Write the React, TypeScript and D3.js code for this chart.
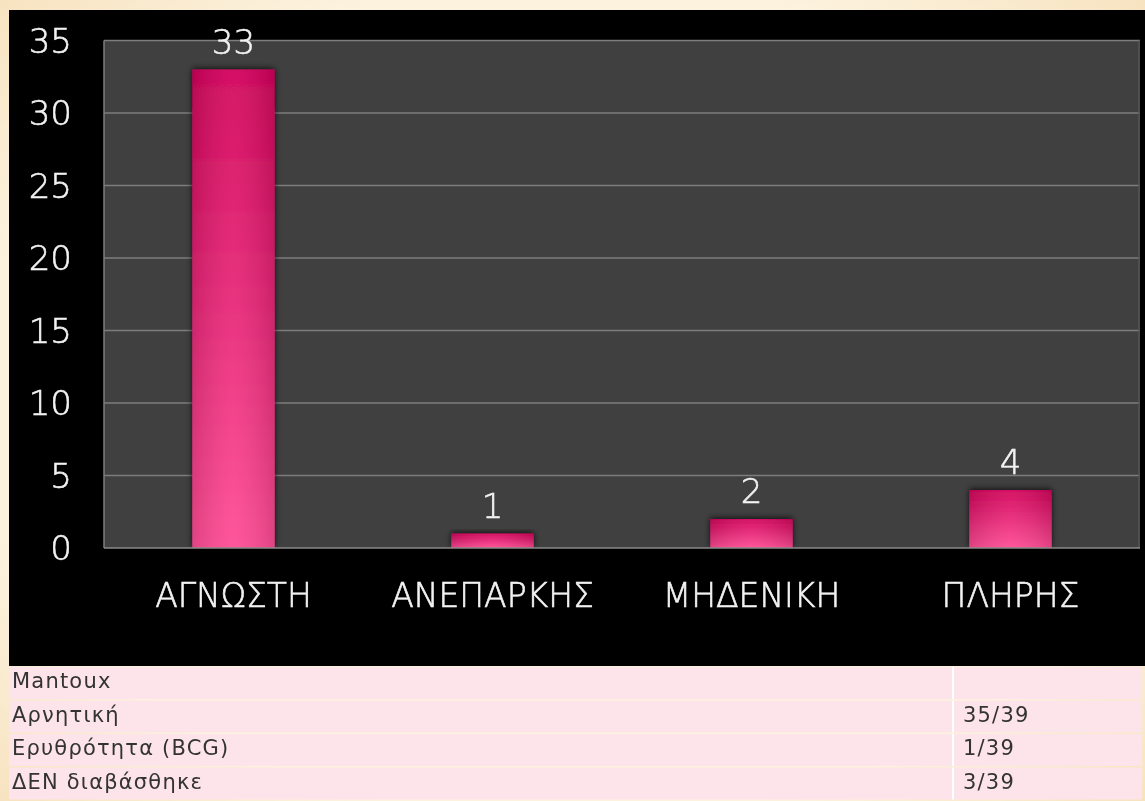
import React from "react";
import * as d3 from "d3";

const categories = ["ΑΓΝΩΣΤΗ", "ΑΝΕΠΑΡΚΗΣ", "ΜΗΔΕΝΙΚΗ", "ΠΛΗΡΗΣ"];
const values = [33, 1, 2, 4];
const yTicks = [0, 5, 10, 15, 20, 25, 30, 35];
const tableLabels = ["Mantoux", "Αρνητική", "Ερυθρότητα (BCG)", "ΔΕΝ διαβάσθηκε"];
const tableValues = ["", "35/39", "1/39", "3/39"];

const W = 1145;
const H = 801;
const FONT = "'DejaVu Sans', sans-serif";

export default function App() {
  const plot = { left: 104, right: 1140, top: 40.5, bottom: 548 };
  const x = d3.scaleBand<string>().domain(categories).range([plot.left, plot.right]).padding(0);
  const y = d3.scaleLinear().domain([0, 35]).range([plot.bottom, plot.top]);
  const barW = x.bandwidth() * 0.318;

  const panel = { left: 9, top: 10, right: W, bottom: 666 };
  const rowTop = 667;
  const rowH = 32;
  const colSplit = 953;

  const lightText = {
    fontFamily: FONT,
    fontWeight: 300,
    fill: "#f2f2f2",
    stroke: "#f2f2f2",
    strokeWidth: 0.6,
  } as const;

  return (
    <div style={{ position: "fixed", left: 0, top: 0 }}>
      <svg width={W} height={H} style={{ display: "block" }}>
        <defs>
          <linearGradient id="barV" x1="0" y1="0" x2="0" y2="1">
            <stop offset="0" stopColor="#d2045b" />
            <stop offset="1" stopColor="#ff4c95" />
          </linearGradient>
          <linearGradient id="barH" x1="0" y1="0" x2="1" y2="0">
            <stop offset="0" stopColor="#000" stopOpacity="0.12" />
            <stop offset="0.5" stopColor="#fff" stopOpacity="0.06" />
            <stop offset="1" stopColor="#000" stopOpacity="0.12" />
          </linearGradient>
          <filter id="glow" x="-30%" y="-30%" width="160%" height="160%">
            <feGaussianBlur in="SourceAlpha" stdDeviation="3" />
            <feOffset dx="0" dy="-1" result="b" />
            <feComponentTransfer>
              <feFuncA type="linear" slope="0.8" />
            </feComponentTransfer>
            <feMerge>
              <feMergeNode />
              <feMergeNode in="SourceGraphic" />
            </feMerge>
          </filter>
          <radialGradient id="bgTex" cx="0.5" cy="0.5" r="0.75">
            <stop offset="0.7" stopColor="#fcf2de" />
            <stop offset="1" stopColor="#f6dfb8" />
          </radialGradient>
        </defs>

        {/* page background */}
        <rect x={0} y={0} width={W} height={H} fill="url(#bgTex)" />

        {/* black chart panel */}
        <rect x={panel.left} y={panel.top} width={panel.right - panel.left} height={panel.bottom - panel.top} fill="#000" />

        {/* plot area */}
        <rect x={plot.left} y={plot.top} width={plot.right - plot.left} height={plot.bottom - plot.top} fill="#404040" />
        {yTicks.filter((t) => t > 0).map((t) => (
          <line key={t} x1={plot.left} x2={plot.right} y1={y(t)} y2={y(t)} stroke="#7d7d7d" strokeWidth={1.5} />
        ))}
        <line x1={plot.left} x2={plot.left} y1={plot.top} y2={plot.bottom} stroke="#7d7d7d" strokeWidth={1.5} />
        <line x1={plot.right - 1} x2={plot.right - 1} y1={plot.top} y2={plot.bottom} stroke="#555" strokeWidth={1.5} />

        {/* bars */}
        {categories.map((c, i) => {
          const cx = (x(c) as number) + x.bandwidth() / 2;
          const top = y(values[i]);
          return (
            <g key={c}>
              <g filter="url(#glow)">
                <rect x={cx - barW / 2} y={top} width={barW} height={plot.bottom - top} fill="url(#barV)" />
              </g>
              <rect x={cx - barW / 2} y={top} width={barW} height={plot.bottom - top} fill="url(#barH)" />
            </g>
          );
        })}
        <line x1={plot.left} x2={plot.right} y1={plot.bottom} y2={plot.bottom} stroke="#8a8a8a" strokeWidth={1.5} />

        {/* value labels */}
        {categories.map((c, i) => (
          <text
            key={c}
            x={(x(c) as number) + x.bandwidth() / 2}
            y={y(values[i]) - 16}
            textAnchor="middle"
            fontSize={34}
            {...lightText}
          >
            {values[i]}
          </text>
        ))}

        {/* y axis ticks */}
        {yTicks.map((t) => (
          <text key={t} x={72} y={y(t)} dy="0.36em" textAnchor="end" fontSize={34} {...lightText}>
            {t}
          </text>
        ))}

        {/* category labels */}
        {categories.map((c) => (
          <text key={c} x={(x(c) as number) + x.bandwidth() / 2} y={607} textAnchor="middle" fontSize={33} {...lightText}>
            {c}
          </text>
        ))}

        {/* table */}
        {tableLabels.map((lab, i) => {
          const top = rowTop + i * (rowH + 1.5);
          return (
            <g key={lab}>
              <rect x={panel.left} y={top} width={1142 - panel.left} height={rowH} fill="#fde4ea" />
              <line x1={colSplit} x2={colSplit} y1={top} y2={top + rowH} stroke="#fff" strokeWidth={2} />
              <text x={12} y={top + 21} fontFamily={FONT} fontSize={21} fill="#333" letterSpacing={1.2}>
                {lab}
              </text>
              <text x={963} y={top + 21} fontFamily={FONT} fontSize={21} fill="#333" letterSpacing={1.2}>
                {tableValues[i]}
              </text>
            </g>
          );
        })}
        <rect x={panel.left} y={rowTop + 4 * (rowH + 1.5)} width={1142 - panel.left} height={rowH} fill="#fde4ea" />
      </svg>
    </div>
  );
}
